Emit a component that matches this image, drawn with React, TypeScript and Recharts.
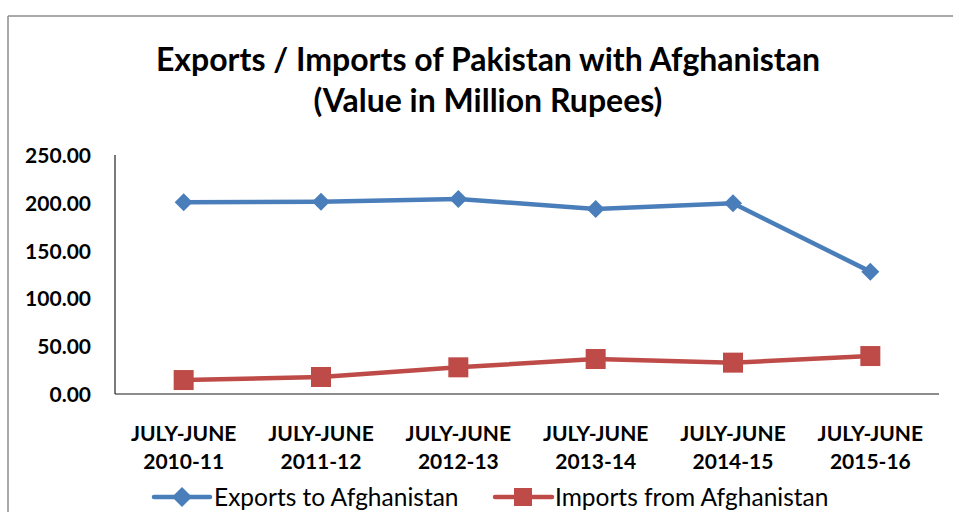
import { LineChart, Line, XAxis, YAxis, Legend } from "recharts";

const periods = ["2010-11", "2011-12", "2012-13", "2013-14", "2014-15", "2015-16"];
const periodPrefix = "JULY-JUNE";
const exportsToAfghanistan = [200.5, 201, 204, 193.5, 199.5, 128];
const importsFromAfghanistan = [14.6, 17.8, 27.9, 36.6, 32.8, 39.7];
const yTicks = [0, 50, 100, 150, 200, 250];

const BLUE = "#4A7EBB";
const RED = "#BE4B48";
const FONT = "Lato, 'Open Sans', sans-serif";

const data = periods.map((p, i) => ({
  period: p,
  exports: exportsToAfghanistan[i],
  imports: importsFromAfghanistan[i],
}));

const Diamond = ({ cx, cy, r = 9 }: any) => {
  if (cx == null || cy == null) return null;
  return (
    <path
      d={`M${cx},${cy - r} L${cx + r},${cy} L${cx},${cy + r} L${cx - r},${cy} Z`}
      fill={BLUE}
    />
  );
};

const Square = ({ cx, cy, r = 10 }: any) => {
  if (cx == null || cy == null) return null;
  return <rect x={cx - r} y={cy - r} width={r * 2} height={r * 2} fill={RED} />;
};

const XTick = ({ x, y, payload }: any) => (
  <g transform={`translate(${x},${y})`}>
    <text textAnchor="middle" fontFamily={FONT} fontWeight="bold" fontSize={21} fill="#000">
      <tspan x={0} y={39}>{periodPrefix}</tspan>
      <tspan x={0} y={67}>{payload.value}</tspan>
    </text>
  </g>
);

const YTick = ({ y, payload }: any) => (
  <text x={91} y={y + 8} textAnchor="end" fontFamily={FONT} fontWeight="bold" fontSize={21} fill="#000">
    {payload.value.toFixed(2)}
  </text>
);

const LegendContent = () => (
  <svg width={953} height={32}>
    <line x1={154} x2={210} y1={15} y2={15} stroke={BLUE} strokeWidth={4.5} strokeLinecap="round" />
    <Diamond cx={182} cy={15} r={10} />
    <text x={214} y={23.5} fontFamily={FONT} fontSize={24.5} fill="#000">Exports to Afghanistan</text>
    <line x1={495} x2={552} y1={15} y2={15} stroke={RED} strokeWidth={4.5} strokeLinecap="round" />
    <Square cx={523} cy={15} r={9} />
    <text x={555} y={23.5} fontFamily={FONT} fontSize={24.5} fill="#000">Imports from Afghanistan</text>
  </svg>
);

export default function App() {
  return (
    <div style={{ position: "absolute", left: 0, top: 0, width: 953, height: 512, background: "#fff" }}>
      <svg
        width={953}
        height={512}
        style={{ position: "absolute", left: 0, top: 0, pointerEvents: "none" }}
      >
        <line x1={8} x2={953} y1={16} y2={16} stroke="#8c8c8c" strokeWidth={1.5} />
        <line x1={8} x2={8} y1={16} y2={512} stroke="#8c8c8c" strokeWidth={1.5} />
        <text x={488} y={71} textAnchor="middle" fontFamily={FONT} fontWeight="bold" fontSize={32} fill="#000">
          Exports / Imports of Pakistan with Afghanistan
        </text>
        <text x={488} y={112} textAnchor="middle" fontFamily={FONT} fontWeight="bold" fontSize={32} fill="#000">
          (Value in Million Rupees)
        </text>
      </svg>
      <div style={{ position: "absolute", left: 0, top: 0 }}>
        <LineChart
          width={953}
          height={512}
          data={data}
          margin={{ top: 155, right: 14, bottom: 0, left: 0 }}
        >
          <XAxis
            dataKey="period"
            scale="band"
            height={118}
            tick={<XTick />}
            tickLine={false}
            axisLine={{ stroke: "#8c8c8c", strokeWidth: 2 }}
            interval={0}
          />
          <YAxis
            width={115}
            domain={[0, 250]}
            ticks={yTicks}
            tick={<YTick />}
            tickLine={false}
            axisLine={{ stroke: "#222", strokeWidth: 1.2 }}
          />
          <Legend
            layout="horizontal"
            verticalAlign="middle"
            align="center"
            wrapperStyle={{ top: 482, left: 0, width: 953 }}
            content={<LegendContent />}
          />
          <Line
            dataKey="exports"
            stroke={BLUE}
            strokeWidth={4.5}
            dot={<Diamond r={9} />}
            activeDot={false}
            isAnimationActive={false}
          />
          <Line
            dataKey="imports"
            stroke={RED}
            strokeWidth={4.5}
            dot={<Square r={10} />}
            activeDot={false}
            isAnimationActive={false}
          />
        </LineChart>
      </div>
    </div>
  );
}
